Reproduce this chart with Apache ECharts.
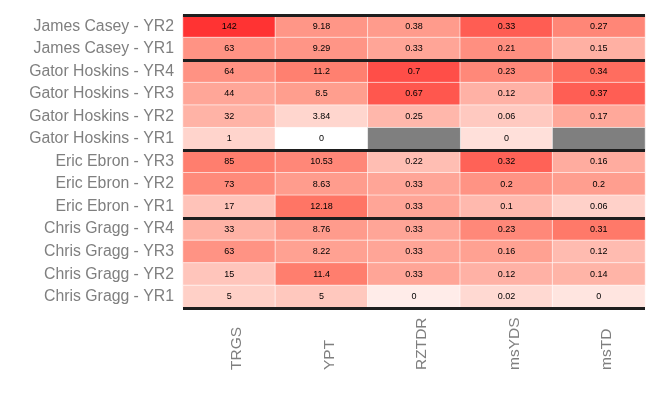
<!DOCTYPE html>
<html>
<head>
<meta charset="utf-8">
<script src="https://cdn.jsdelivr.net/npm/echarts@6/dist/echarts.min.js"></script>
<style>html,body{margin:0;padding:0;background:#fff}#c{width:660px;height:400px}</style>
</head>
<body>
<div id="c"></div>
<script>
const rowLabels = ['James Casey - YR2','James Casey - YR1','Gator Hoskins - YR4','Gator Hoskins - YR3','Gator Hoskins - YR2','Gator Hoskins - YR1','Eric Ebron - YR3','Eric Ebron - YR2','Eric Ebron - YR1','Chris Gragg - YR4','Chris Gragg - YR3','Chris Gragg - YR2','Chris Gragg - YR1'];
const metrics = ['TRGS','YPT','RZTDR','msYDS','msTD'];
const TRGS  = [142,63,64,44,32,1,85,73,17,33,63,15,5];
const YPT   = [9.18,9.29,11.2,8.5,3.84,0,10.53,8.63,12.18,8.76,8.22,11.4,5];
const RZTDR = [0.38,0.33,0.7,0.67,0.25,null,0.22,0.33,0.33,0.33,0.33,0.33,0];
const msYDS = [0.33,0.21,0.23,0.12,0.06,0,0.32,0.2,0.1,0.23,0.16,0.12,0.02];
const msTD  = [0.27,0.15,0.34,0.37,0.17,null,0.16,0.2,0.06,0.31,0.12,0.14,0];
const groupBreaks = [0,2,6,9,13];

const cols = [TRGS,YPT,RZTDR,msYDS,msTD];
const data = [], naData = [];
let zmin = Infinity, zmax = -Infinity;
cols.forEach((arr, ci) => {
  const v = arr.filter(x => x !== null);
  const m = v.reduce((a,b)=>a+b,0)/v.length;
  const sd = Math.sqrt(v.reduce((a,b)=>a+(b-m)*(b-m),0)/(v.length-1));
  arr.forEach((val, ri) => {
    if (val === null) { naData.push([ci, ri, 0]); return; }
    const z = (val - m)/sd;
    zmin = Math.min(zmin, z); zmax = Math.max(zmax, z);
    data.push([ci, ri, z, val]);
  });
});

const chart = echarts.init(document.getElementById('c'));
const font = 'Liberation Sans, Arial, sans-serif';
chart.setOption({
  animation: false,
  backgroundColor: '#fff',
  grid: {left: 183, right: 15, top: 15, bottom: 92},
  xAxis: {
    type: 'category', data: metrics, position: 'bottom',
    axisLine: {show: false}, axisTick: {show: false}, splitLine: {show: false},
    axisLabel: {rotate: 90, color: '#7f7f7f', fontSize: 15.5, fontFamily: font, margin: 62,
      align: 'left', verticalAlign: 'top'}
  },
  yAxis: {
    type: 'category', data: rowLabels, inverse: true, z: 5,
    axisLine: {show: false}, axisTick: {show: false},
    axisLabel: {color: '#7f7f7f', fontSize: 15.8, fontFamily: font, margin: 9},
    splitLine: {show: true, interval: (idx) => groupBreaks.includes(idx),
      lineStyle: {color: '#1e1e1e', width: 2.8}}
  },
  visualMap: {
    show: false, seriesIndex: 0, dimension: 2, min: zmin, max: zmax,
    inRange: {color: ['#ffffff','#ffd3cb','#ffa192','#ff7464','#ff3333']}
  },
  series: [{
    type: 'heatmap', data: data, z: 2,
    itemStyle: {borderColor: '#ffffff', borderWidth: 0.6},
    label: {show: true, color: '#000', fontSize: 9, fontFamily: font,
      formatter: p => String(p.value[3])}
  }, {
    type: 'heatmap', data: naData, z: 2,
    itemStyle: {color: '#7f7f7f', borderColor: '#ffffff', borderWidth: 0.6},
    label: {show: false}
  }]
});
</script>
</body>
</html>
